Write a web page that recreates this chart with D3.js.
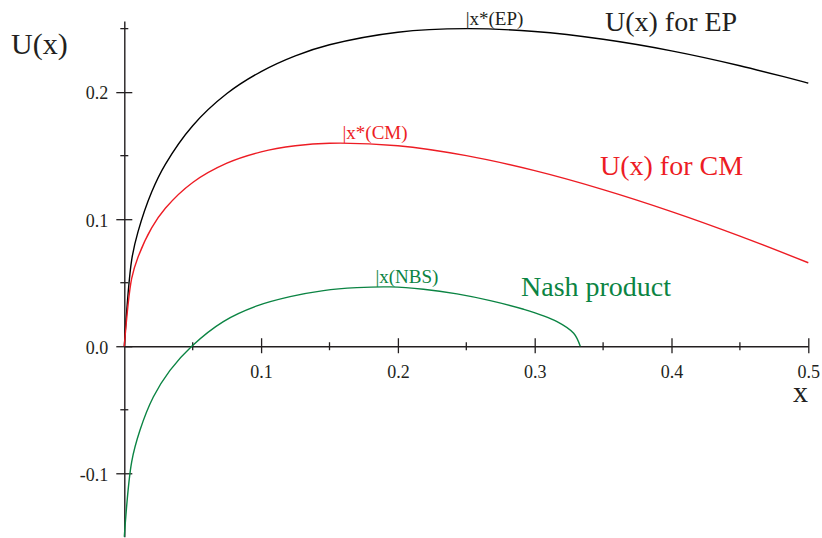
<!DOCTYPE html>
<html>
<head>
<meta charset="utf-8">
<script src="https://cdn.jsdelivr.net/npm/d3@7"></script>
<style>
  body { margin: 0; background: #fff; }
  svg { display: block; }
  svg text { font-family: "Liberation Serif", "Times New Roman", serif; }
</style>
</head>
<body>
<figure id="utility" style="margin:0"></figure>
<script>
// values
const xsEP = [0, 0.0054, 0.01, 0.02, 0.03, 0.05, 0.075, 0.1, 0.125, 0.15, 0.2, 0.25, 0.3, 0.35, 0.4, 0.45, 0.5];
const uEP  = [0, 0.068, 0.09, 0.1214, 0.1432, 0.1736, 0.1989, 0.2162, 0.2286, 0.2373, 0.2472, 0.25, 0.2477, 0.2416, 0.2325, 0.2208, 0.2071];
const xsCM = [0, 0.0054, 0.01, 0.02, 0.03, 0.05, 0.075, 0.1, 0.125, 0.15, 0.2, 0.25, 0.3, 0.35, 0.4, 0.45, 0.5];
const uCM  = [0, 0.0534, 0.07, 0.0931, 0.1086, 0.1289, 0.1441, 0.153, 0.1578, 0.1598, 0.1578, 0.15, 0.1382, 0.1233, 0.106, 0.0867, 0.0657];
const xsNash = [0, 0.0054, 0.0115, 0.0212, 0.0334, 0.0493, 0.0724, 0.0969, 0.1212, 0.1456, 0.17, 0.1944, 0.2187, 0.2432, 0.2675, 0.2919, 0.3163, 0.3285, 0.3333];
const uNash  = [-0.15, -0.091, -0.066, -0.04, -0.019, 0, 0.0194, 0.0317, 0.039, 0.0438, 0.0461, 0.0467, 0.0449, 0.0412, 0.0359, 0.0291, 0.0194, 0.0102, 0];

const xMajor = [0.1, 0.2, 0.3, 0.4, 0.5];
const xMinor = [0.05, 0.15, 0.25, 0.35, 0.45];
const yMajor = [-0.1, 0, 0.1, 0.2];
const yMinor = [-0.05, 0.05, 0.15, 0.25];

// where the optimum markers sit
const markers = [
  { x: 0.251, u: 0.25, text: "|x*(EP)", color: "#231f20" },
  { x: 0.161, u: 0.16, text: "|x*(CM)", color: "#ed1c24" },
  { x: 0.185, u: 0.047, text: "|x(NBS)", color: "#0b8443" }
];

const width = 822, height = 538;
const ink = "#231f20";
const serif = "Liberation Serif, Times New Roman, serif";
const fmt = d => d.toFixed(1); // plain hyphen for negatives, like the original

const svg = d3.select("figure#utility")
  .append("svg")
  .attr("width", width)
  .attr("height", height);

const x = d3.scaleLinear().domain([0, 0.5]).range([124.3, 808.3]);
const y = d3.scaleLinear().domain([-0.15, 0.256]).range([536.8, 21]);

// x axis
const gx = svg.append("g")
  .attr("transform", "translate(0," + y(0) + ")")
  .call(d3.axisBottom(x).tickValues(xMajor).tickSizeOuter(0).tickFormat(fmt))
  .attr("font-family", serif)
  .attr("font-size", 18);
gx.select(".domain").attr("stroke", ink).attr("stroke-width", 1.4);
gx.selectAll(".tick line").attr("y1", -8).attr("y2", 7).attr("stroke", ink).attr("stroke-width", 1.3);
gx.selectAll(".tick text")
  .attr("y", 32).attr("dy", null)
  .attr("fill", ink);

gx.selectAll(".minor")
  .data(xMinor)
  .enter()
  .append("line")
  .attr("x1", d => x(d)).attr("x2", d => x(d))
  .attr("y1", -4).attr("y2", 4)
  .attr("stroke", ink).attr("stroke-width", 1.3);

// y axis
const gy = svg.append("g")
  .attr("transform", "translate(" + x(0) + ",0)")
  .call(d3.axisLeft(y).tickValues(yMajor).tickSizeOuter(0).tickFormat(fmt))
  .attr("font-family", serif)
  .attr("font-size", 18);
gy.select(".domain").attr("stroke", ink).attr("stroke-width", 1.4);
gy.selectAll(".tick line").attr("x1", -8).attr("x2", 8).attr("stroke", ink).attr("stroke-width", 1.3);
gy.selectAll(".tick text")
  .attr("x", -16).attr("dy", "0.38em")
  .attr("fill", ink);

gy.selectAll(".minor")
  .data(yMinor)
  .enter()
  .append("line")
  .attr("y1", d => y(d)).attr("y2", d => y(d))
  .attr("x1", -4).attr("x2", 4)
  .attr("stroke", ink).attr("stroke-width", 1.3);

// curves
const line = d3.line()
  .x(d => x(d[0]))
  .y(d => y(d[1]))
  .curve(d3.curveCatmullRom.alpha(0.5));

const series = [
  { xs: xsEP, us: uEP, color: "#000000" },
  { xs: xsCM, us: uCM, color: "#ed1c24" },
  { xs: xsNash, us: uNash, color: "#0b8443" }
];

svg.selectAll("path.curve")
  .data(series)
  .enter()
  .append("path")
  .attr("class", "curve")
  .attr("d", s => line(s.xs.map((v, i) => [v, s.us[i]])))
  .attr("fill", "none")
  .attr("stroke", s => s.color)
  .attr("stroke-width", 1.4);

// marker labels
svg.selectAll("text.marker")
  .data(markers)
  .enter()
  .append("text")
  .attr("class", "marker")
  .attr("x", d => x(d.x) - 2)
  .attr("y", d => y(d.u) - 4)
  .attr("fill", d => d.color)
  .attr("font-family", serif)
  .attr("font-size", 19)
  .text(d => d.text);

// curve names
svg.append("text").attr("x", 605).attr("y", 31).attr("fill", ink)
  .attr("font-family", serif).attr("font-size", 28).text("U(x) for EP");
svg.append("text").attr("x", 600).attr("y", 175).attr("fill", "#ed1c24")
  .attr("font-family", serif).attr("font-size", 28).text("U(x) for CM");
svg.append("text").attr("x", 521).attr("y", 296).attr("fill", "#0b8443")
  .attr("font-family", serif).attr("font-size", 28).text("Nash product");

// axis titles
svg.append("text").attr("x", 11).attr("y", 54).attr("fill", ink)
  .attr("font-family", serif).attr("font-size", 30).text("U(x)");
svg.append("text").attr("x", 793).attr("y", 402).attr("fill", ink)
  .attr("font-family", serif).attr("font-size", 30).text("x");
</script>
</body>
</html>
